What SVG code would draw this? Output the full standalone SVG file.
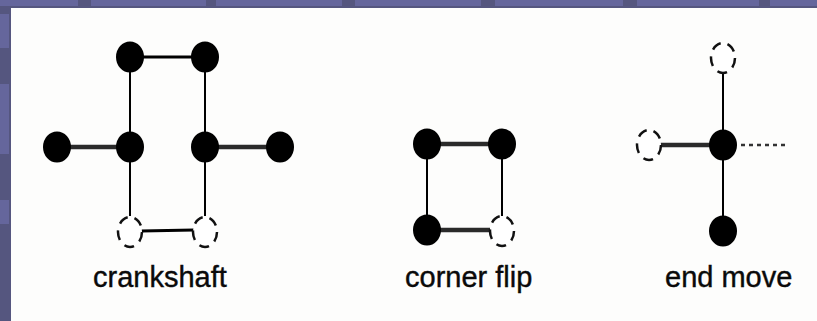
<svg xmlns="http://www.w3.org/2000/svg" width="817" height="321" viewBox="0 0 817 321">
<style>
.bg{fill:#55567f}
.tile{fill:#65669c}
.panel{fill:#fdfdfc}
.node{fill:#000}
.ghost{fill:#fff;stroke:#111;stroke-width:2.5;stroke-dasharray:10 7}
.bond{stroke:#000;stroke-width:2;fill:none}
.top{stroke:#000;stroke-width:3;fill:none}
.thick{stroke:#2a2a2a;stroke-width:4.5;fill:none}
.dots{stroke:#333;stroke-width:2.5;stroke-dasharray:4 4;fill:none}
.label{font-family:"Liberation Sans",Arial,sans-serif;font-size:29px;fill:#0a0a0a;stroke:#0a0a0a;stroke-width:0.4}
</style>
<rect class="bg" x="0" y="0" width="817" height="321"/>
<g id="frame-tiles">
<rect class="tile" x="0" y="0" width="78" height="6"/>
<rect class="tile" x="91" y="0" width="115" height="6"/>
<rect class="tile" x="216" y="0" width="126" height="6"/>
<rect class="tile" x="355" y="0" width="126" height="6"/>
<rect class="tile" x="495" y="0" width="128" height="6"/>
<rect class="tile" x="637" y="0" width="122" height="6"/>
<rect class="tile" x="770" y="0" width="47" height="6"/>
<rect class="tile" x="0" y="14" width="9" height="34"/>
<rect class="tile" x="0" y="84" width="9" height="70"/>
<rect class="tile" x="0" y="200" width="9" height="24"/>
</g>
<rect class="panel" x="11" y="8" width="806" height="313"/>
<g id="connectors">
<line class="top" x1="130" y1="57" x2="205" y2="57"/>
<line class="bond" x1="130" y1="57" x2="130" y2="216"/>
<line class="bond" x1="205" y1="57" x2="205" y2="216"/>
<line class="thick" x1="57" y1="147" x2="130" y2="147"/>
<line class="thick" x1="205" y1="147" x2="280" y2="147"/>
<line class="top" x1="141" y1="231" x2="194" y2="230"/>
<line class="thick" x1="427" y1="144" x2="502" y2="144"/>
<line class="bond" x1="427" y1="144" x2="427" y2="230"/>
<line class="bond" x1="502" y1="144" x2="502" y2="216"/>
<line class="thick" x1="427" y1="230" x2="490" y2="230"/>
<line class="bond" x1="723" y1="58" x2="723" y2="231"/>
<line class="thick" x1="649" y1="145" x2="723" y2="145"/>
<line class="dots" x1="741" y1="145" x2="786" y2="145"/>
</g>
<g id="crankshaft">
<ellipse class="node" cx="130" cy="57" rx="14" ry="15.5"/>
<ellipse class="node" cx="205" cy="57" rx="14" ry="15.5"/>
<ellipse class="node" cx="57" cy="147" rx="14" ry="15.5"/>
<ellipse class="node" cx="130" cy="147" rx="14" ry="15.5"/>
<ellipse class="node" cx="205" cy="147" rx="14" ry="15.5"/>
<ellipse class="node" cx="280" cy="147" rx="14" ry="15.5"/>
<ellipse class="ghost" cx="130" cy="232" rx="12" ry="15"/>
<ellipse class="ghost" cx="205" cy="232" rx="12" ry="15"/>
<text class="label" x="93" y="287">crankshaft</text>
</g>
<g id="corner-flip">
<ellipse class="node" cx="427" cy="144" rx="14" ry="15.5"/>
<ellipse class="node" cx="502" cy="144" rx="14" ry="15.5"/>
<ellipse class="node" cx="427" cy="230" rx="14" ry="15.5"/>
<ellipse class="ghost" cx="502" cy="231" rx="12" ry="15"/>
<text class="label" x="405" y="287">corner flip</text>
</g>
<g id="end-move">
<ellipse class="ghost" cx="723" cy="58" rx="12" ry="15"/>
<ellipse class="ghost" cx="649" cy="145" rx="12" ry="15"/>
<ellipse class="node" cx="723" cy="145" rx="14" ry="15.5"/>
<ellipse class="node" cx="723" cy="231" rx="14" ry="15.5"/>
<text class="label" x="665" y="287">end move</text>
</g>
</svg>
